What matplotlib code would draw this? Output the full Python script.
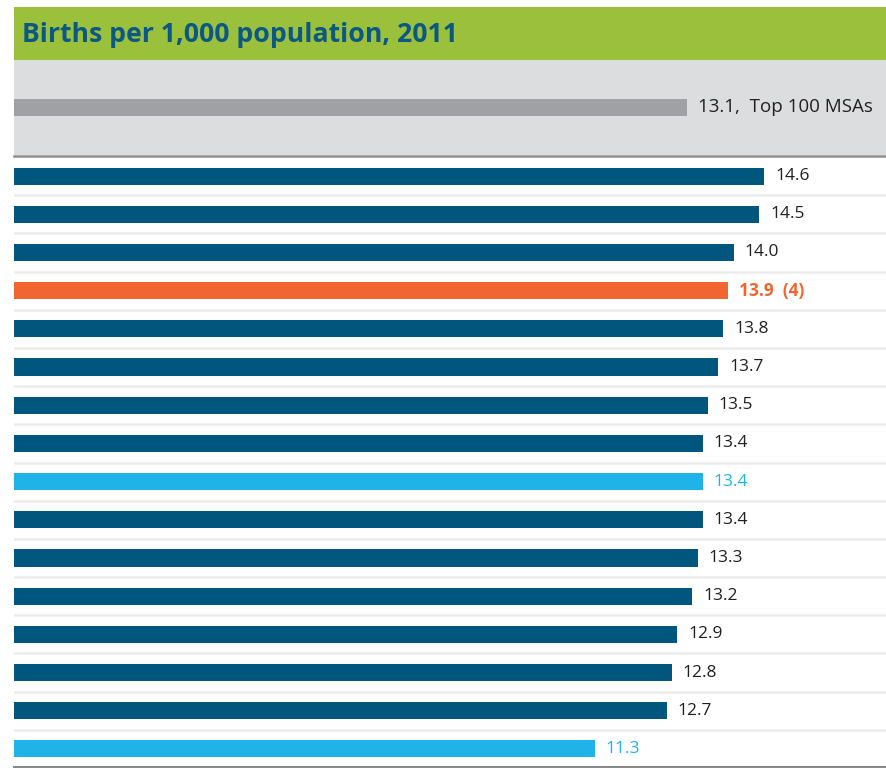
import matplotlib.pyplot as plt
from matplotlib.patches import Rectangle

# births per 1,000 population, 2011

values = [14.6, 14.5, 14.0, 13.9, 13.8, 13.7, 13.5, 13.4, 13.4, 13.4, 13.3, 13.2, 12.9, 12.8, 12.7, 11.3]
labels = ['14.6', '14.5', '14.0', '13.9  (4)', '13.8', '13.7', '13.5', '13.4', '13.4', '13.4',
          '13.3', '13.2', '12.9', '12.8', '12.7', '11.3']
kinds = ['msa', 'msa', 'msa', 'focus', 'msa', 'msa', 'msa', 'msa', 'peer', 'msa',
         'msa', 'msa', 'msa', 'msa', 'msa', 'peer']
top100_value = 13.1
top100_label = '13.1,  Top 100 MSAs'
title = 'Births per 1,000 population, 2011'

bar_colors = {'msa': '#00567d', 'focus': '#f26531', 'peer': '#1fb3e8'}
text_colors = {'msa': '#231f20', 'focus': '#f26531', 'peer': '#1fb3e8'}

plt.rcParams['font.family'] = ['Open Sans', 'DejaVu Sans']

W, H = 887, 768
fig = plt.figure(figsize = (W / 100, H / 100), dpi = 100)

x0 = 14
px_per_unit = 51.4
xmax = (W - x0) / px_per_unit

def frac_box(left, top, right, bottom):
    return [left / W, 1 - bottom / H, (right - left) / W, (bottom - top) / H]

# green title band
ax_t = fig.add_axes(frac_box(x0, 7, W, 60))
ax_t.set_axis_off()
ax_t.add_patch(Rectangle((0, 0), 1, 1, color = '#9bc03b', transform = ax_t.transAxes))
ax_t.text(8 / (W - x0), 0.48, title, transform = ax_t.transAxes, va = 'center', ha = 'left',
          fontsize = 19.2, fontweight = 'bold', color = '#0b5883')

# grey panel with the top 100 average
ax_a = fig.add_axes(frac_box(x0, 60, W, 155))
ax_a.set_xlim(0, xmax)
ax_a.set_ylim(0, 1)
ax_a.set_axis_off()
ax_a.add_patch(Rectangle((0, 0), 1, 1, color = '#dcdddf', transform = ax_a.transAxes, zorder = 0))
ax_a.barh(0.5, top100_value, height = 0.18, color = '#a0a1a4', zorder = 2)
ax_a.text(top100_value + 11 / px_per_unit, 0.5, top100_label, va = 'center', ha = 'left',
          fontsize = 13.5, color = '#231f20')

# main bars
ax = fig.add_axes(frac_box(x0, 157, W, H))
ax.set_xlim(0, xmax)
ax.set_ylim(len(values) - 0.5, -0.5)
ax.set_axis_off()

rows = range(len(values))
ax.barh(list(rows), values, height = 0.45, color = [bar_colors[k] for k in kinds], zorder = 2)

for i, (v, lab, k) in enumerate(zip(values, labels, kinds)):
    ax.text(v + 11 / px_per_unit, i, lab, va = 'center', ha = 'left', fontsize = 12.5,
            color = text_colors[k], fontweight = 'bold' if k == 'focus' else 'normal')

# row separators
for i in range(len(values) - 1):
    ax.axhline(i + 0.5, color = '#ececec', lw = 1.8, zorder = 1)

# rules above and below the bars
fig.add_artist(plt.Line2D([x0 / W, 1], [1 - 156 / H, 1 - 156 / H], color = '#8e8e8e', lw = 1.8))
fig.add_artist(plt.Line2D([x0 / W, 1], [1 - 766.5 / H, 1 - 766.5 / H], color = '#8a8a8a', lw = 2.2))

fig.savefig('out.png', dpi = 100)
